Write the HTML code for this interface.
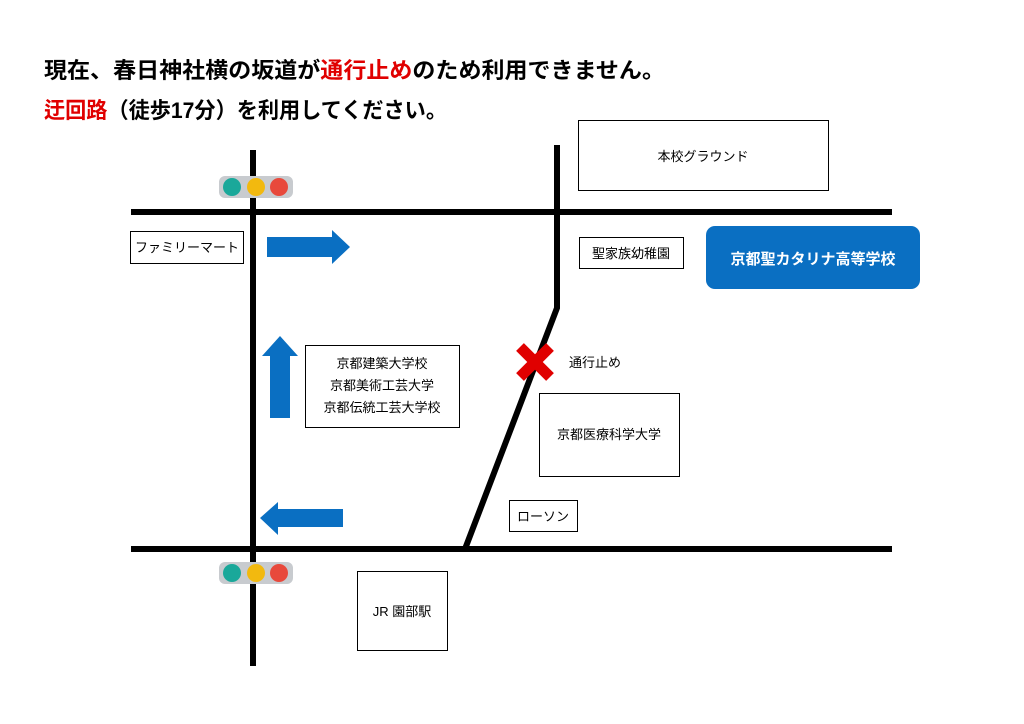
<!DOCTYPE html>
<html><head><meta charset="utf-8"><style>
body{margin:0;background:#fff;}
svg{display:block;font-family:"Liberation Sans","Noto Sans CJK JP",sans-serif;}
</style></head><body>
<svg width="1024" height="724" viewBox="0 0 1024 724">
<text x="44" y="78" font-size="22" font-weight="bold" fill="#000" textLength="621" lengthAdjust="spacingAndGlyphs">現在、春日神社横の坂道が<tspan fill="#e00000">通行止め</tspan>のため利用できません。</text>
<text x="44" y="118" font-size="22" font-weight="bold" fill="#000" textLength="403" lengthAdjust="spacingAndGlyphs"><tspan fill="#e00000">迂回路</tspan>（徒歩17分）を利用してください。</text>
<g stroke="#000" stroke-width="6" fill="none">
<line x1="131" y1="212" x2="892" y2="212"/>
<line x1="131" y1="549" x2="892" y2="549"/>
<line x1="253" y1="150" x2="253" y2="666"/>
<polyline points="557,145 557,308 465,549"/>
</g>
<g stroke="#000" stroke-width="1" fill="#fff">
<rect x="130.5" y="231.5" width="113" height="32"/>
<rect x="578.5" y="120.5" width="250" height="70"/>
<rect x="579.5" y="237.5" width="104" height="31"/>
<rect x="305.5" y="345.5" width="154" height="82"/>
<rect x="539.5" y="393.5" width="140" height="83"/>
<rect x="509.5" y="500.5" width="68" height="31"/>
<rect x="357.5" y="571.5" width="90" height="79"/>
</g>
<rect x="706" y="226" width="214" height="63" rx="9" fill="#0a6fc2"/>
<g font-size="13" fill="#000" text-anchor="middle">
<text x="187" y="252">ファミリーマート</text>
<text x="703" y="161">本校グラウンド</text>
<text x="631" y="258">聖家族幼稚園</text>
<text x="382" y="368">京都建築大学校</text>
<text x="382" y="390">京都美術工芸大学</text>
<text x="382" y="412">京都伝統工芸大学校</text>
<text x="609" y="439">京都医療科学大学</text>
<text x="543" y="521">ローソン</text>
<text x="402" y="616">JR 園部駅</text>
<text x="595" y="367">通行止め</text>
</g>
<text x="813" y="264" font-size="15" font-weight="bold" fill="#fff" text-anchor="middle">京都聖カタリナ高等学校</text>
<g fill="#0a6fc2">
<polygon points="267,237 332,237 332,230 350,247 332,264 332,257 267,257"/>
<polygon points="270,418 270,356 262,356 280,336 298,356 290,356 290,418"/>
<polygon points="343,509 278,509 278,502 260,518 278,535 278,527 343,527"/>
</g>
<g stroke="#e00000" stroke-width="11">
<line x1="520" y1="347" x2="550" y2="377"/>
<line x1="550" y1="347" x2="520" y2="377"/>
</g>
<g id="tl">
<rect x="219" y="176" width="74" height="22" rx="6" fill="#c8cbcf"/>
<circle cx="232" cy="187" r="9" fill="#1aa89a"/>
<circle cx="256" cy="187" r="9" fill="#f2b90f"/>
<circle cx="279" cy="187" r="9" fill="#e8493c"/>
</g>
<use href="#tl" y="386"/>
</svg>
</body></html>
